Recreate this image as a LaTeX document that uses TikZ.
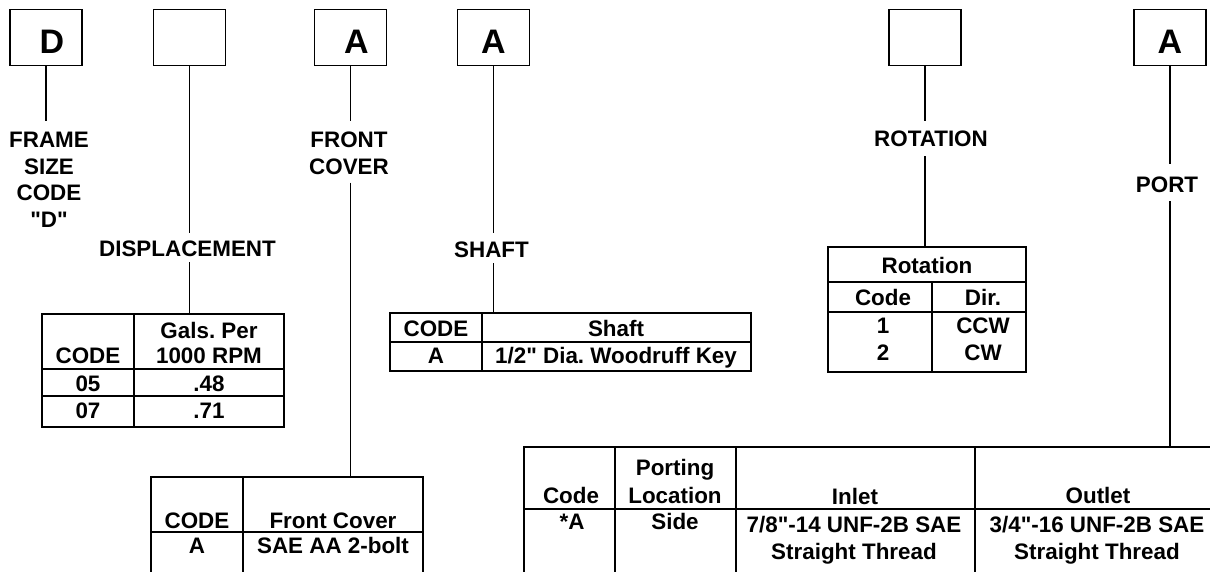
\documentclass[tikz,border=0pt]{standalone}
\usepackage{fontspec}
\setmainfont{Liberation Sans}[Ligatures=TeXOff]
\frenchspacing
\begin{document}
\begin{tikzpicture}[x=1pt,y=-1pt,
  every node/.style={inner sep=0pt, outer sep=0pt},
  lw/.style={line width=1.6pt},
  txt/.style={font=\fontsize{22.4}{26.7}\selectfont\bfseries, anchor=base},
  lbl/.style={font=\fontsize{22.4}{26.7}\selectfont\bfseries, align=center},
  codebox/.style={draw, line width=1.6pt, minimum width=72pt, minimum height=56pt,
    font=\fontsize{34}{36}\selectfont\bfseries, text height=32pt, text depth=0pt},
  tbl/.style={draw, line width=1.6pt, anchor=north west}]
\useasboundingbox (0,0) rectangle (1210,571);
\clip (0,0) rectangle (1210,571);

% code boxes
\node[codebox] (bD)   at (46,37.5)   {\kern12pt D};
\node[codebox] (bDsp) at (189.5,37.5) {};
\node[codebox] (bFc)  at (350.5,37.5) {\kern12pt A};
\node[codebox] (bSh)  at (493.5,37.5) {A};
\node[codebox] (bRot) at (925,37.5)   {};
\node[codebox] (bPt)  at (1170,37.5)  {A};

% labels
\node[lbl, anchor=north] (lFrame) at (49,132) {FRAME\\SIZE\\CODE\\"D"};
\node[txt] (lDisp) at (187.5,256) {DISPLACEMENT};
\node[lbl, anchor=north] (lFront) at (349,132) {FRONT\\COVER};
\node[txt] (lShaft) at (491.5,257) {SHAFT};
\node[txt] (lRot) at (931,146) {ROTATION};
\node[txt] (lPort) at (1167,192) {PORT};

% tables (outlines)
\node[tbl, minimum width=242pt, minimum height=113pt] (tDisp) at (42,314) {};
\node[tbl, minimum width=272pt, minimum height=130pt] (tFront) at (151,477) {};
\node[tbl, minimum width=361pt, minimum height=58pt] (tShaft) at (390,313) {};
\node[tbl, minimum width=198pt, minimum height=125pt] (tRot) at (828,247) {};
\node[tbl, minimum width=700pt, minimum height=140pt] (tPort) at (524,447) {};

% connectors
\draw[lw, shorten >=11pt] (bD.south) -- (bD.south |- lFrame.north);
\draw[lw, shorten >=7pt] (bDsp.south) -- (bDsp.south |- lDisp.north);
\draw[lw, shorten <=6pt] (bDsp.south |- lDisp.south) -- (bDsp.south |- tDisp.north);
\draw[lw, shorten >=11pt] (bFc.south) -- (bFc.south |- lFront.north);
\draw[lw, shorten <=8pt] (bFc.south |- lFront.south) -- (bFc.south |- tFront.north);
\draw[lw, shorten >=8pt] (bSh.south) -- (bSh.south |- lShaft.north);
\draw[lw, shorten <=6pt] (bSh.south |- lShaft.south) -- (bSh.south |- tShaft.north);
\draw[lw, shorten >=9pt] (bRot.south) -- (bRot.south |- lRot.north);
\draw[lw, shorten <=10pt] (bRot.south |- lRot.south) -- (bRot.south |- tRot.north);
\draw[lw, shorten >=12pt] (bPt.south) -- (bPt.south |- lPort.north);
\draw[lw, shorten <=9pt] (bPt.south |- lPort.south) -- (bPt.south |- tPort.north);

% displacement table
\draw[lw] (134,314) -- (134,427);
\draw[lw] (42,369) -- (284,369);
\draw[lw] (42,396) -- (284,396);
\node[txt] at (88,363) {CODE};
\node[txt] at (209,338) {Gals. Per};
\node[txt] at (209,363) {1000 RPM};
\node[txt] at (88,391) {05};
\node[txt] at (209,391) {.48};
\node[txt] at (88,418) {07};
\node[txt] at (209,418) {.71};

% front cover table
\draw[lw] (243,477) -- (243,600);
\draw[lw] (151,532) -- (423,532);
\node[txt] at (197,528) {CODE};
\node[txt] at (333,528) {Front Cover};
\node[txt] at (197,553) {A};
\node[txt] at (333,553) {SAE AA 2-bolt};

% shaft table
\draw[lw] (482,313) -- (482,371);
\draw[lw] (390,342) -- (751,342);
\node[txt] at (436,336) {CODE};
\node[txt] at (616,336) {Shaft};
\node[txt] at (436,363) {A};
\node[txt] at (616,363) {1/2" Dia. Woodruff Key};

% rotation table
\draw[lw] (828,282) -- (1026,282);
\draw[lw] (828,312) -- (1026,312);
\draw[lw] (932,282) -- (932,372);
\node[txt] at (927,273) {Rotation};
\node[txt] at (883,305) {Code};
\node[txt] at (983,305) {Dir.};
\node[txt] at (883,333) {1};
\node[txt] at (983,333) {CCW};
\node[txt] at (883,360) {2};
\node[txt] at (983,360) {CW};

% port table
\draw[lw] (615,447) -- (615,600);
\draw[lw] (736,447) -- (736,600);
\draw[lw] (975,447) -- (975,600);
\draw[lw] (524,509) -- (1230,509);
\node[txt] at (571,503) {Code};
\node[txt] at (675,475) {Porting};
\node[txt] at (675,503) {Location};
\node[txt] at (855,504) {Inlet};
\node[txt] at (1098,503) {Outlet};
\node[txt] at (572,529) {*A};
\node[txt] at (675,529) {Side};
\node[txt] at (854,532) {7/8"-14 UNF-2B SAE};
\node[txt] at (854,559) {Straight Thread};
\node[txt] at (1097,532) {3/4"-16 UNF-2B SAE};
\node[txt] at (1097,559) {Straight Thread};
\end{tikzpicture}
\end{document}
